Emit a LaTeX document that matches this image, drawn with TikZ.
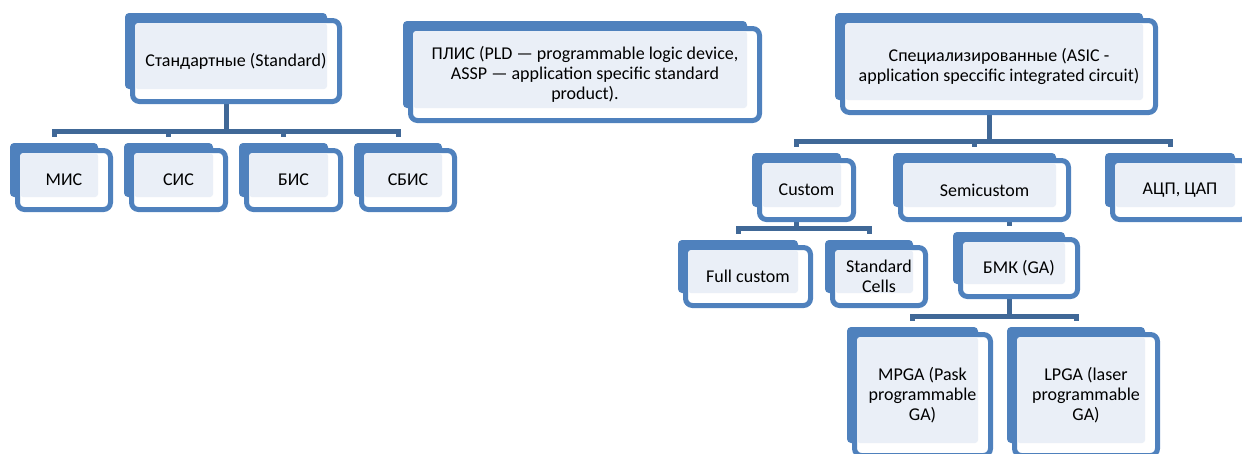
\documentclass[tikz,border=0pt]{standalone}
\usepackage{fontspec}
\setmainfont{Carlito}
\usetikzlibrary{calc,backgrounds}

\definecolor{tabblue}{RGB}{79,129,189}
\definecolor{tablight}{RGB}{234,239,247}
\definecolor{linkblue}{RGB}{64,104,151}

\tikzset{
  backbox/.style={fill=tabblue, rounded corners=4pt, inner sep=0pt, outer sep=0pt},
  frontbox/.style={draw=tabblue, fill=white, line width=5pt, rounded corners=7pt},
  lightfill/.style={fill=tablight, rounded corners=3pt},
  boxtext/.style={font=\fontsize{18}{20}\selectfont, align=center, inner sep=0pt, text=black},
  link/.style={draw=linkblue, line width=5pt, line join=miter},
}

% #1 name, (#2,#3)-(#4,#5) blue tab, #6 label
\newcommand\tabbox[6]{%
  \node[backbox, anchor=north west, minimum width={#4-#2}, minimum height={#5-#3}] (#1) at (#2,#3) {};
  \draw[frontbox] ($(#1.north west)+(7.5,7.5)$) rectangle ($(#1.south east)+(12.5,12.5)$);
  \fill[lightfill] ($(#1.north west)+(10,10)$) rectangle (#1.south east);
  \node[boxtext] (#1-label) at ($(#1.center)+(10,10)$) {#6};
}

% parent -> child through a horizontal bus at coordinate #3
\newcommand\branch[3]{%
  \draw[link] (#1.south) -- (#1.south |- #3) -| ($(#2.north)+(0,-6)$);
}

\begin{document}
\begin{tikzpicture}[x=1pt, y=-1pt]
\useasboundingbox (0,0) rectangle (1242,453);

% standard ICs
\tabbox{std}{125}{13}{327}{89}{Стандартные (Standard)}
\tabbox{mis}{10}{143}{98}{197}{МИС}
\tabbox{sis}{124}{143}{213}{197}{СИС}
\tabbox{bis}{239}{143}{328}{197}{БИС}
\tabbox{sbis}{354}{143}{442}{197}{СБИС}

% programmable devices
\tabbox{pld}{403}{21}{747}{108}{ПЛИС (PLD — programmable logic device,\\ASSP — application specific standard\\product).}

% application specific ICs
\tabbox{asic}{835}{13}{1143}{100}{Специализированные (ASIC -\\application speccific integrated circuit)}
\tabbox{custom}{752}{153}{841}{207}{Custom}
\tabbox{semi}{893}{153}{1056}{207}{Semicustom}
\tabbox{adc}{1105}{153}{1235}{207}{АЦП, ЦАП}
\tabbox{full}{678}{240}{798}{293}{Full custom}
\tabbox{cells}{825}{240}{913}{293}{Standard\\Cells}
\tabbox{bmk}{953}{232}{1065}{284}{БМК (GA)}
\tabbox{mpga}{847}{327}{978}{443}{MPGA (Pask\\programmable\\GA)}
\tabbox{lpga}{1007}{327}{1145}{443}{LPGA (laser\\programmable\\GA)}

\coordinate (stdbus) at (0,131);
\coordinate (asicbus) at (0,141.5);
\coordinate (custombus) at (0,228);
\coordinate (bmkbus) at (0,316);

\begin{pgfonlayer}{background}
  \branch{std}{mis}{stdbus}
  \branch{std}{sis}{stdbus}
  \branch{std}{bis}{stdbus}
  \branch{std}{sbis}{stdbus}
  \branch{asic}{custom}{asicbus}
  \branch{asic}{semi}{asicbus}
  \branch{asic}{adc}{asicbus}
  \branch{custom}{full}{custombus}
  \branch{custom}{cells}{custombus}
  \draw[link] (semi.south -| bmk.north) -- ($(bmk.north)+(0,-6)$);
  \branch{bmk}{mpga}{bmkbus}
  \branch{bmk}{lpga}{bmkbus}
\end{pgfonlayer}
\end{tikzpicture}
\end{document}
